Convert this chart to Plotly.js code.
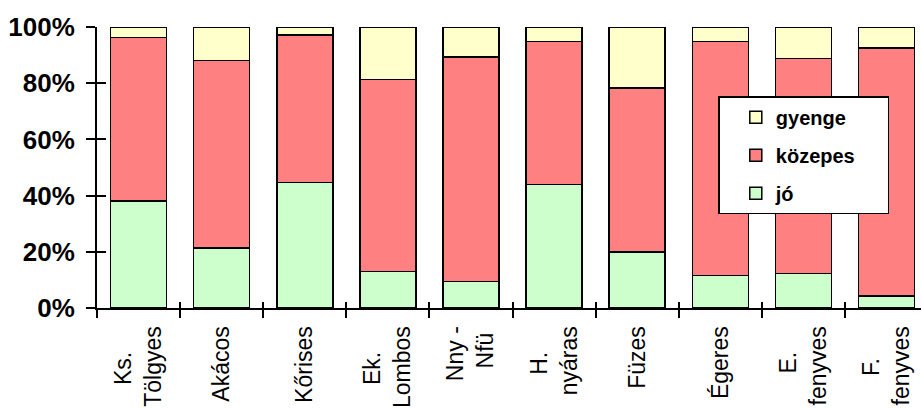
<!DOCTYPE html>
<html>
<head>
<meta charset="utf-8">
<script src="https://cdn.plot.ly/plotly-3.0.1.min.js"></script>
<style>
html,body{margin:0;padding:0;background:#fff;overflow:hidden;}
#chart{width:921px;height:408px;}
</style>
</head>
<body>
<div id="chart"></div>
<script>
var NB = '\u00A0';
function pad(n){ return NB.repeat(n); }

var categories = [
  'Ks.' + pad(4) + '<br>Tölgyes',
  'Akácos',
  'Kőrises',
  'Ek.' + pad(4) + '<br>Lombos',
  'Nny -<br>Nfü' + pad(1),
  'H.' + pad(4) + '<br>nyáras',
  'Füzes',
  'Égeres',
  'E.' + pad(4) + '<br>fenyves',
  'F.' + pad(5) + '<br>fenyves'
];

var seriesNames = ['jó', 'közepes', 'gyenge'];
var joValues      = [38.0, 21.4, 44.7, 13.0,  9.5, 43.9, 20.0, 11.6, 12.3,  4.3];
var kozepesValues = [58.3, 66.7, 52.5, 68.4, 79.9, 50.9, 58.3, 83.2, 76.5, 88.2];
var gyengeValues  = [ 3.7, 11.9,  2.8, 18.6, 10.6,  5.2, 21.7,  5.2, 11.2,  7.5];
var seriesColors  = ['#CCFFCC', '#FF8080', '#FFFFCC'];
var legendRanks   = [3, 2, 1];

var yTickVals  = [0, 20, 40, 60, 80, 100];
var yTickTexts = ['0%', '20%', '40%', '60%', '80%', '100%'];

var allValues = [joValues, kozepesValues, gyengeValues];
var traces = allValues.map(function(vals, i){
  return {
    type: 'bar',
    name: seriesNames[i] + (i === 1 ? pad(5) : ''),
    x: categories,
    y: vals,
    legendgroup: 'g' + i,
    legendrank: legendRanks[i],
    marker: {color: seriesColors[i], line: {color: '#000', width: 1.5}},
    hoverinfo: 'none'
  };
});
// empty helper trace for the overlay axes (inner tick halves)
traces.push({type: 'scatter', x: [], y: [], xaxis: 'x2', yaxis: 'y2', showlegend: false, hoverinfo: 'skip'});

var xRange = [-0.5, 9.415];

var layout = {
  width: 921,
  height: 408,
  margin: {l: 97, r: 0, t: 27, b: 100, pad: 0},
  paper_bgcolor: '#fff',
  plot_bgcolor: '#fff',
  barmode: 'stack',
  bargap: 0.326,
  showlegend: true,
  legend: {
    x: 0.754, y: 0.754, xanchor: 'left', yanchor: 'top',
    bgcolor: '#fff', bordercolor: '#000', borderwidth: 1.5,
    traceorder: 'grouped',
    tracegroupgap: 9,
    indentation: 16,
    font: {family: 'Liberation Sans, Arial, sans-serif', size: 20, color: '#000', weight: 'bold'}
  },
  xaxis: {
    type: 'category',
    range: xRange,
    tickson: 'boundaries',
    ticks: 'outside', ticklen: 8, tickwidth: 2, tickcolor: '#000',
    showline: true, linecolor: '#000', linewidth: 2,
    showgrid: false, zeroline: false,
    tickangle: -90,
    ticklabelstandoff: 7,
    tickfont: {family: 'Liberation Sans, Arial, sans-serif', size: 23, color: '#000'},
    fixedrange: true
  },
  yaxis: {
    range: [0, 100],
    tickmode: 'array',
    tickvals: yTickVals,
    ticktext: yTickTexts,
    ticks: 'outside', ticklen: 9, tickwidth: 2, tickcolor: '#000',
    showline: true, linecolor: '#000', linewidth: 2,
    showgrid: false, zeroline: false,
    ticklabelstandoff: 6,
    tickfont: {family: 'Liberation Sans, Arial, sans-serif', size: 26, color: '#000', weight: 'bold'},
    fixedrange: true
  },
  xaxis2: {
    overlaying: 'x', anchor: 'y2',
    range: xRange, tick0: -0.5, dtick: 1,
    ticks: 'inside', ticklen: 6, tickwidth: 2, tickcolor: '#000',
    showticklabels: false, showline: false, showgrid: false, zeroline: false,
    fixedrange: true
  },
  yaxis2: {
    overlaying: 'y', anchor: 'x2', side: 'left',
    range: [0, 100], tickmode: 'array', tickvals: yTickVals,
    ticks: 'inside', ticklen: 9, tickwidth: 2, tickcolor: '#000',
    showticklabels: false, showline: false, showgrid: false, zeroline: false,
    fixedrange: true
  }
};

Plotly.newPlot('chart', traces, layout, {displayModeBar: false, staticPlot: true});
</script>
</body>
</html>
